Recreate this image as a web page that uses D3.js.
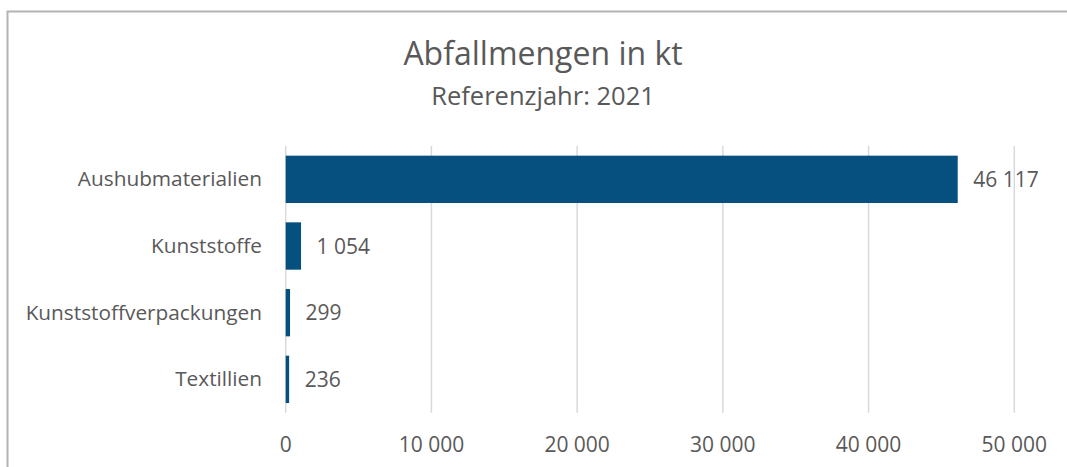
<!DOCTYPE html>
<html>
<head>
<meta charset="utf-8">
<script src="https://cdn.jsdelivr.net/npm/d3@7"></script>
<style>
  html, body { margin: 0; padding: 0; background: #fff; overflow: hidden; }
  svg { display: block; }
  text { font-family: "Open Sans", sans-serif; fill: #595959; }
</style>
</head>
<body>
<svg id="chart" width="1067" height="467"></svg>
<script>
const categories = ["Aushubmaterialien", "Kunststoffe", "Kunststoffverpackungen", "Textillien"];
const values = [46117, 1054, 299, 236];
const valueLabels = ["46 117", "1 054", "299", "236"];
const tickValues = [0, 10000, 20000, 30000, 40000, 50000];
const tickLabels = ["0", "10 000", "20 000", "30 000", "40 000", "50 000"];
const title = "Abfallmengen in kt";
const subtitle = "Referenzjahr: 2021";

const svg = d3.select("#chart");

// outer frame (extends beyond the viewport at right and bottom)
svg.append("rect")
  .attr("x", 7.5).attr("y", 11.5)
  .attr("width", 1100).attr("height", 500)
  .attr("fill", "none").attr("stroke", "#b3b3b3").attr("stroke-width", 2);

const x = d3.scaleLinear().domain([0, 50000]).range([285.7, 1014.3]);
const y = d3.scaleBand().domain(categories).range([146, 412.7]).paddingInner(0.29).paddingOuter(0.145);

// gridlines
svg.append("g")
  .selectAll("line")
  .data(tickValues)
  .join("line")
  .attr("x1", d => x(d)).attr("x2", d => x(d))
  .attr("y1", 146).attr("y2", 412.7)
  .attr("stroke", "#d9d9d9").attr("stroke-width", 1.5);

// x tick labels
svg.append("g")
  .selectAll("text")
  .data(tickValues)
  .join("text")
  .attr("x", d => x(d))
  .attr("y", 451.5)
  .attr("text-anchor", "middle")
  .attr("font-size", 21)
  .text((d, i) => tickLabels[i]);

// bars
svg.append("g")
  .selectAll("rect")
  .data(values)
  .join("rect")
  .attr("x", x(0))
  .attr("y", (d, i) => y(categories[i]))
  .attr("width", d => x(d) - x(0))
  .attr("height", y.bandwidth())
  .attr("fill", "#05507f");

// category labels
svg.append("g")
  .selectAll("text")
  .data(categories)
  .join("text")
  .attr("x", 262)
  .attr("y", d => y(d) + y.bandwidth() / 2 + 7)
  .attr("text-anchor", "end")
  .attr("font-size", 20.8)
  .text(d => d);

// value labels
svg.append("g")
  .selectAll("text")
  .data(values)
  .join("text")
  .attr("x", d => x(d) + 15.5)
  .attr("y", (d, i) => y(categories[i]) + y.bandwidth() / 2 + 7.5)
  .attr("font-size", 21)
  .text((d, i) => valueLabels[i]);

// titles
svg.append("text")
  .attr("x", 543).attr("y", 65)
  .attr("text-anchor", "middle")
  .attr("font-size", 32)
  .text(title);

svg.append("text")
  .attr("x", 543).attr("y", 105)
  .attr("text-anchor", "middle")
  .attr("font-size", 25.5)
  .text(subtitle);
</script>
</body>
</html>
